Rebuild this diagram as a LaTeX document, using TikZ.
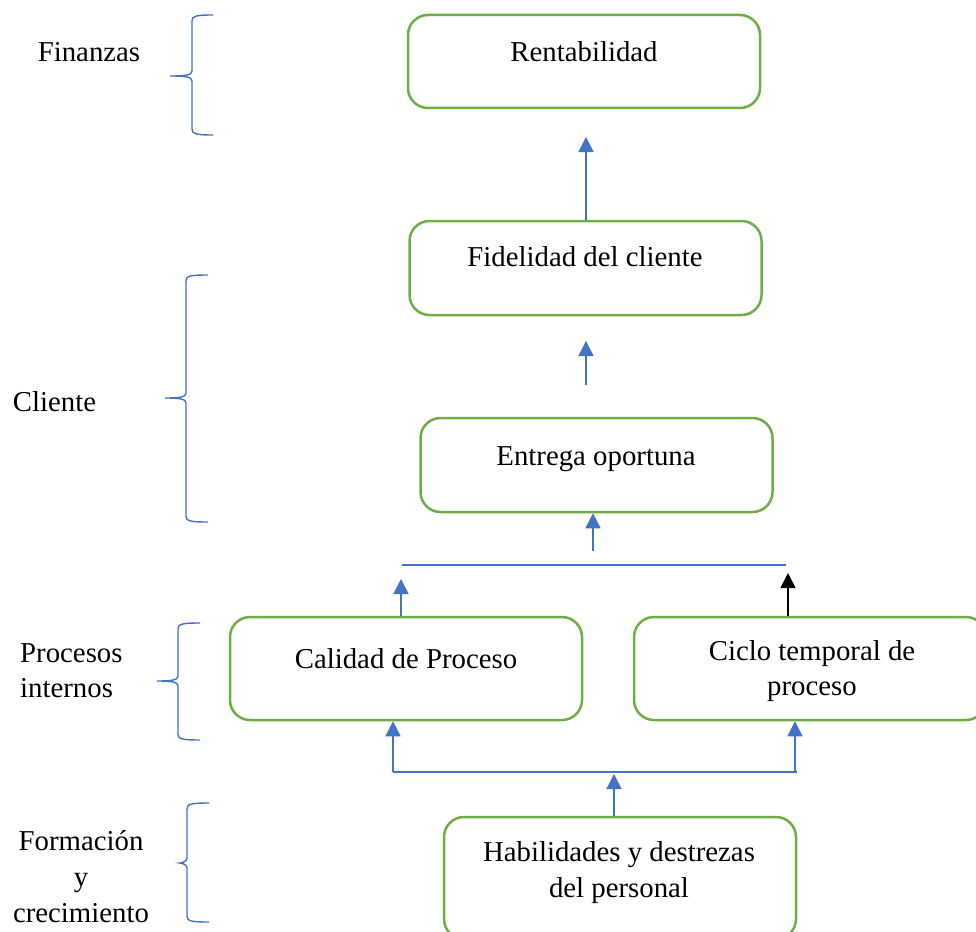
\documentclass[tikz,border=0pt]{standalone}
\usepackage{fontspec}
\setmainfont{Liberation Serif}
\usetikzlibrary{arrows.meta}
\definecolor{boxgreen}{HTML}{70AD47}
\definecolor{linkblue}{HTML}{4472C4}
% curly brace opening to the right: end x, stem x, tip x, top y, tip y, bottom y
\newcommand{\levelbrace}[6]{%
  \draw[bracestyle] (#1,#4) .. controls (#2+4,#4) and (#2,#4+1) .. (#2,#4+6)
    -- (#2,#5-5) .. controls (#2,#5-1) and (#2-6,#5) .. (#3,#5)
    .. controls (#2-6,#5) and (#2,#5+1) .. (#2,#5+5)
    -- (#2,#6-6) .. controls (#2,#6-1) and (#2+4,#6) .. (#1,#6);}
\begin{document}
\begin{tikzpicture}[x=1pt,y=-1pt,
  stage/.style={draw=boxgreen, line width=2.5pt, rounded corners=20pt,
    inner sep=0pt, minimum width=352pt, minimum height=#1},
  txt/.style={font=\fontsize{28.8}{36}\selectfont, inner sep=0pt, align=center},
  flow/.style={draw=linkblue, line width=1.5pt, -{Triangle[width=15pt,length=15pt]}},
  flowblack/.style={draw=black, line width=1.5pt, -{Triangle[width=15pt,length=15pt]}},
  bar/.style={draw=linkblue, line width=1.5pt},
  bracestyle/.style={draw=linkblue, line width=1.4pt}]
\useasboundingbox (0,0) rectangle (976,931);

% boxes
\node[stage=93pt] (ren) at (584,61.5) {};
\node[stage=94pt] (fid) at (585.5,268) {};
\node[stage=94pt] (ent) at (596.5,465) {};
\node[stage=103pt] (cal) at (406,668.5) {};
\node[stage=103pt] (cic) at (810,668.5) {};
\node[stage=122pt] (hab) at (620,878) {};

% box texts (base anchor sits on the last line)
\node[txt, anchor=base] (renT) at (584,62) {Rentabilidad};
\node[txt, anchor=base] (fidT) at (585,266) {Fidelidad del cliente};
\node[txt, anchor=base] (entT) at (596,465) {Entrega oportuna};
\node[txt, anchor=base] (calT) at (406,668) {Calidad de Proceso};
\node[txt, anchor=base, font=\fontsize{28.8}{35}\selectfont] (cicT) at (812,695) {Ciclo temporal de\\proceso};
\node[txt, anchor=base] (habT) at (619,897) {Habilidades y destrezas\\del personal};

% level labels
\node[txt, anchor=base] (finL) at (89,62) {Finanzas};
\node[txt, anchor=base] (cliL) at (54.5,411) {Cliente};
\node[txt, anchor=base west, align=left, font=\fontsize{28.8}{35}\selectfont] (proL) at (20,697) {Procesos\\internos};
\node[txt, anchor=base] (forL) at (81,922) {Formación\\y\\crecimiento};

% braces
\levelbrace{213}{192}{170}{15}{76}{135}
\levelbrace{208}{186}{165}{275}{398}{522}
\levelbrace{200}{178}{157}{623}{681}{740}
\levelbrace{209}{187}{180}{803}{863}{922}

% connector points
\coordinate (t1) at (586,137);
\coordinate (s2) at (586,385);
\coordinate (t2) at (586,341);
\coordinate (s3) at (593,551);
\coordinate (b1) at (402,565);
\coordinate (b2) at (786,565);
\coordinate (t4) at (401,579);
\coordinate (t5) at (788,573);
\coordinate (c1) at (393,772);
\coordinate (c2) at (797,772);
\coordinate (t6) at (614,774);

% connectors
\draw[flow] (fid.north -| t1) -- (t1);
\draw[flow] (s2) -- (t2);
\draw[flow] (s3) -- (ent.south -| s3);
\draw[bar] (b1) -- (b2);
\draw[flow] (cal.north -| t4) -- (t4);
\draw[flowblack] (cic.north -| t5) -- (t5);
\draw[bar] (c1) -- (c2);
\draw[flow] (c1) -- (cal.south -| c1);
\draw[flow] ([xshift=-2pt]c2) -- (cic.south -| 795,0);
\draw[flow] (hab.north -| t6) -- (t6);
\end{tikzpicture}
\end{document}
